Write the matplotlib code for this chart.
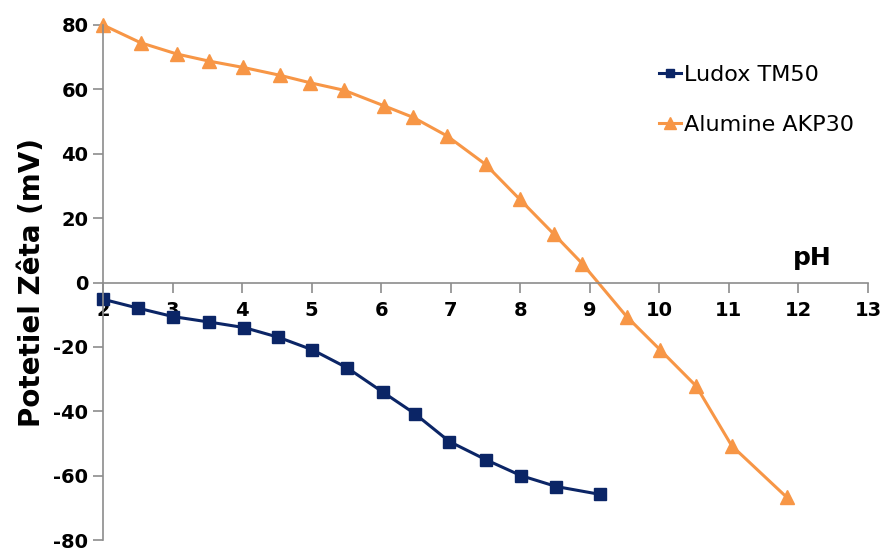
import numpy as np
import matplotlib
matplotlib.use('Agg')
import matplotlib.pyplot as plt

plt.rcParams['axes.unicode_minus'] = False

# Ludox TM50
ph_ludox = [2.0, 2.51, 3.01, 3.53, 4.03, 4.52, 5.01, 5.51, 6.02, 6.48, 6.98, 7.51, 8.01, 8.52, 9.14]
zeta_ludox = [-5.2, -8.0, -10.6, -12.3, -14.0, -17.0, -20.9, -26.5, -34.0, -40.7, -49.4, -55.1, -60.0, -63.4, -65.8]

# Alumine AKP30
ph_akp = [2.0, 2.54, 3.06, 3.52, 4.02, 4.54, 4.97, 5.47, 6.04, 6.46, 6.95, 7.50, 7.99, 8.48, 8.89,
          9.53, 10.01, 10.53, 11.04, 11.83]
zeta_akp = [80.0, 74.5, 71.0, 68.8, 66.8, 64.4, 62.1, 59.7, 54.9, 51.3, 45.5, 36.7, 25.9, 15.1, 5.9,
            -10.6, -20.9, -32.2, -50.7, -66.7]

xticks = list(range(2, 14))
yticks = [-80, -60, -40, -20, 0, 20, 40, 60, 80]

navy = '#0B2566'
orange = '#F79646'
axis_col = '#8C8C8C'

fig = plt.figure(figsize=(8.84, 5.51), dpi=100)
ax = fig.add_axes([103 / 884, 11 / 551, 765 / 884, 515 / 551])

ax.plot(ph_ludox, zeta_ludox, color=navy, lw=2.2, marker='s', ms=8, label='Ludox TM50', clip_on=False)
ax.plot(ph_akp, zeta_akp, color=orange, lw=2.2, marker='^', ms=10, label='Alumine AKP30', clip_on=False)

ax.set_xlim(2, 13)
ax.set_ylim(-80, 80)
ax.set_xticks(xticks)
ax.set_yticks(yticks)

ax.spines['top'].set_visible(False)
ax.spines['right'].set_visible(False)
ax.spines['bottom'].set_position(('data', 0))
for s in ('left', 'bottom'):
    ax.spines[s].set_color(axis_col)
    ax.spines[s].set_linewidth(1.2)
ax.tick_params(axis='both', colors=axis_col, length=7, width=1.2, direction='out')
ax.tick_params(axis='both', labelcolor='black', labelsize=14)
ax.tick_params(axis='x', pad=6)
for lab in ax.get_xticklabels() + ax.get_yticklabels():
    lab.set_fontweight('bold')

ax.set_ylabel('Potetiel Zêta (mV)', fontsize=20, fontweight='bold')
ax.yaxis.set_label_coords(-0.075, 0.5)
ax.text(12.2, 7.7, 'pH', fontsize=18, fontweight='bold', ha='center', va='center')

ax.legend(loc='upper left', bbox_to_anchor=(648 / 884, 1 - 54 / 551), bbox_transform=fig.transFigure,
          frameon=False, fontsize=16, handlelength=1.0, handletextpad=0.1, labelspacing=1.35,
          borderpad=0, markerscale=0.8)

plt.savefig('out.png', dpi=100)
